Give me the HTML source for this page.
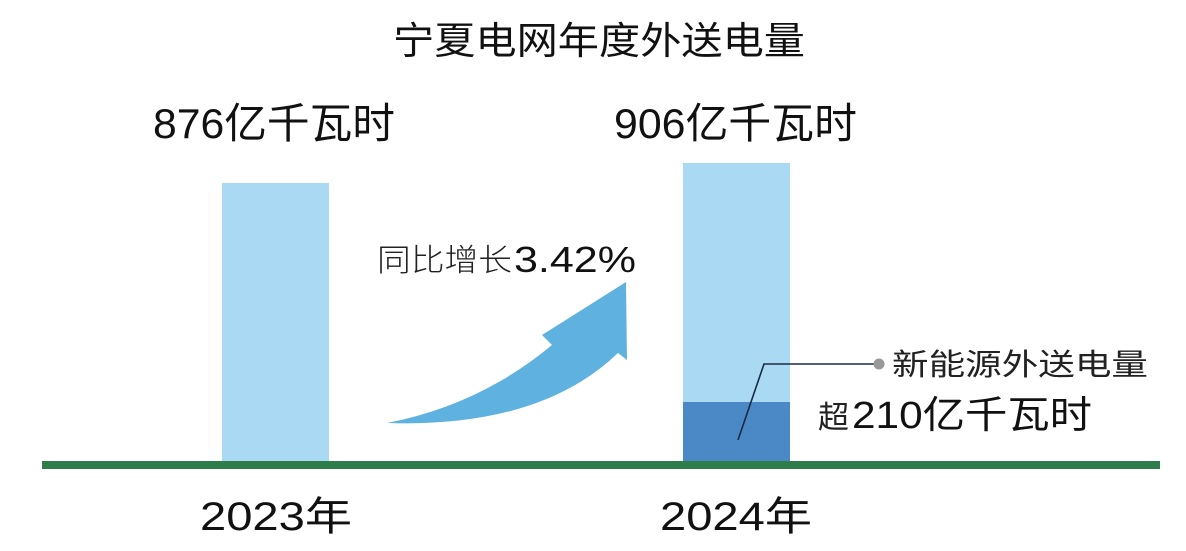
<!DOCTYPE html>
<html><head><meta charset="utf-8"><style>
html,body{margin:0;padding:0;background:#fff;}
svg{display:block}
text{font-family:"Liberation Sans","Noto Sans CJK SC",sans-serif;}
</style></head><body>
<svg width="1186" height="551" viewBox="0 0 1186 551" xmlns="http://www.w3.org/2000/svg">
<rect width="1186" height="551" fill="#fff"/>
<text x="599" y="54" font-size="38" text-anchor="middle" fill="#111" textLength="412" lengthAdjust="spacingAndGlyphs">宁夏电网年度外送电量</text>
<text x="153" y="138" font-size="42" fill="#111" textLength="242" lengthAdjust="spacingAndGlyphs">876亿千瓦时</text>
<text x="614" y="138" font-size="42" fill="#111" textLength="243" lengthAdjust="spacingAndGlyphs">906亿千瓦时</text>
<rect x="222" y="183" width="107" height="280" fill="#a9d9f3"/>
<rect x="683" y="163" width="107" height="240" fill="#a9d9f3"/>
<rect x="683" y="402" width="107" height="61" fill="#4b89c6"/>
<rect x="42" y="461" width="1118" height="8" fill="#2f7d4b"/>
<path d="M387,423 Q480,405 552,345 L542,335 L626,282 L627,360 L618,353 Q540,428 387,423 Z" fill="#5fb2e0"/>
<text x="377" y="271" font-size="31" fill="#222" font-family="'Noto Sans CJK SC',sans-serif" font-weight="300" textLength="135" lengthAdjust="spacingAndGlyphs">同比增长</text>
<text x="514" y="272" font-size="36" fill="#111" textLength="122" lengthAdjust="spacingAndGlyphs">3.42%</text>
<polyline points="738,440 764,364 878,364" fill="none" stroke="#1a2a44" stroke-width="1.6"/>
<circle cx="879" cy="364" r="5.5" fill="#999"/>
<text x="892" y="375" font-size="30" fill="#222" font-family="'Noto Serif CJK SC',serif" textLength="256" lengthAdjust="spacingAndGlyphs">新能源外送电量</text>
<text x="818" y="428" font-size="31" fill="#222" font-family="'Noto Serif CJK SC',serif">超</text>
<text x="852" y="428" font-size="38" fill="#111" textLength="240" lengthAdjust="spacingAndGlyphs">210亿千瓦时</text>
<text x="200" y="530" font-size="40" fill="#111" textLength="152" lengthAdjust="spacingAndGlyphs">2023年</text>
<text x="660" y="530" font-size="40" fill="#111" textLength="152" lengthAdjust="spacingAndGlyphs">2024年</text>
</svg>
</body></html>
